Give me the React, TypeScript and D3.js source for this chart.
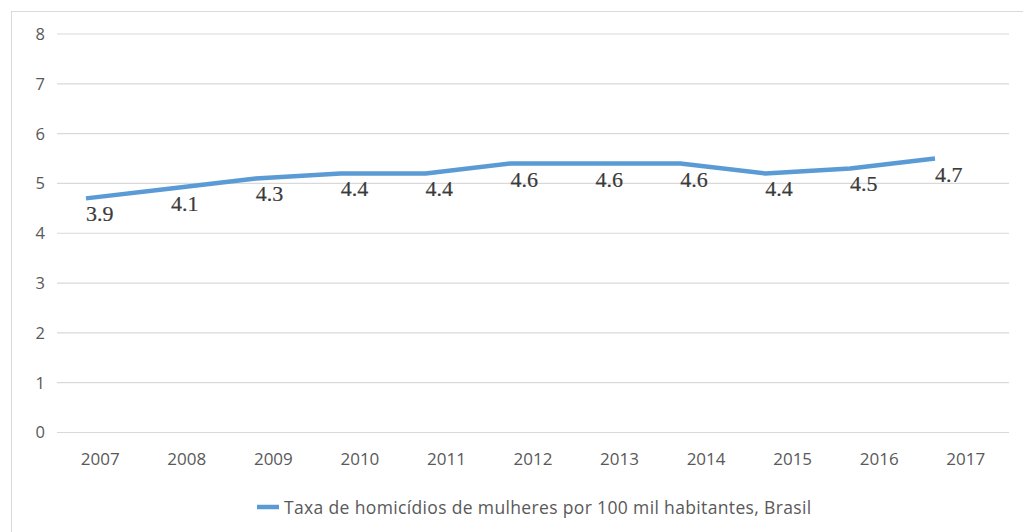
import React from "react";
import * as d3 from "d3";

// Homicide rate of women per 100 thousand inhabitants, Brazil
const YEARS = ["2007", "2008", "2009", "2010", "2011", "2012", "2013", "2014", "2015", "2016", "2017"];
const RATES = [3.9, 4.1, 4.3, 4.4, 4.4, 4.6, 4.6, 4.6, 4.4, 4.5, 4.7];
const Y_TICKS = [0, 1, 2, 3, 4, 5, 6, 7, 8];
const SERIES_NAME = "Taxa de homicídios de mulheres por 100 mil habitantes, Brasil";

const W = 1023;
const H = 532;
const PLOT = { left: 57, right: 1009, top: 34, bottom: 432.5 };
// the series layer sits on its own, slightly offset frame
const SERIES_FRAME = { left: 86, right: 935, shift: 0.8 };

const GRID = "#d9d9d9";
const TEXT = "#595959";
const LINE = "#5b9bd5";
const SANS = "'Open Sans', 'Noto Sans', sans-serif";
const SERIF = "'Liberation Serif', 'Times New Roman', serif";

export default function App() {
  const x = d3.scaleBand<string>().domain(YEARS).range([PLOT.left, PLOT.right]);
  const y = d3.scaleLinear().domain([0, 8]).range([PLOT.bottom, PLOT.top]);

  const xs = d3.scalePoint<string>().domain(YEARS).range([SERIES_FRAME.left, SERIES_FRAME.right]);
  const ys = d3
    .scaleLinear()
    .domain([-SERIES_FRAME.shift, 8 - SERIES_FRAME.shift])
    .range([PLOT.bottom, PLOT.top]);

  const pts = YEARS.map((yr, i) => ({ yr, v: RATES[i] }));
  const line = d3
    .line<{ yr: string; v: number }>()
    .x((d) => xs(d.yr)!)
    .y((d) => ys(d.v));

  return (
    <svg
      width={W}
      height={H}
      style={{ position: "absolute", left: 0, top: 0, background: "#fff" }}
    >
      <rect x={11.5} y={11.5} width={W + 20} height={H + 20} fill="#fff" stroke={GRID} strokeWidth={1} />

      {Y_TICKS.map((t) => (
        <g key={t}>
          <line x1={PLOT.left} x2={PLOT.right} y1={y(t)} y2={y(t)} stroke={GRID} strokeWidth={1.2} />
          <text
            x={45}
            y={y(t)}
            dy="0.36em"
            textAnchor="end"
            fontFamily={SANS}
            fontSize={16.5}
            fill={TEXT}
          >
            {t}
          </text>
        </g>
      ))}

      {YEARS.map((yr) => (
        <text
          key={yr}
          x={x(yr)! + x.bandwidth() / 2}
          y={465}
          textAnchor="middle"
          fontFamily={SANS}
          fontSize={17}
          fill={TEXT}
        >
          {yr}
        </text>
      ))}

      <path
        d={line(pts) ?? ""}
        fill="none"
        stroke={LINE}
        strokeWidth={4.5}
        strokeLinejoin="round"
      />

      {pts.map((d) => (
        <text
          key={d.yr}
          x={xs(d.yr)!}
          y={ys(d.v) + 23}
          fontFamily={SERIF}
          fontSize={22}
          fill="#3a3a3a"
          stroke="#3a3a3a"
          strokeWidth={0.2}
        >
          {d.v.toFixed(1)}
        </text>
      ))}

      <g>
        <line x1={257} x2={279} y1={507} y2={507} stroke={LINE} strokeWidth={4.5} />
        <text
          x={284}
          y={514}
          fontFamily={SANS}
          fontSize={17.5}
          letterSpacing={0.35}
          fill={TEXT}
        >
          {SERIES_NAME}
        </text>
      </g>
    </svg>
  );
}
